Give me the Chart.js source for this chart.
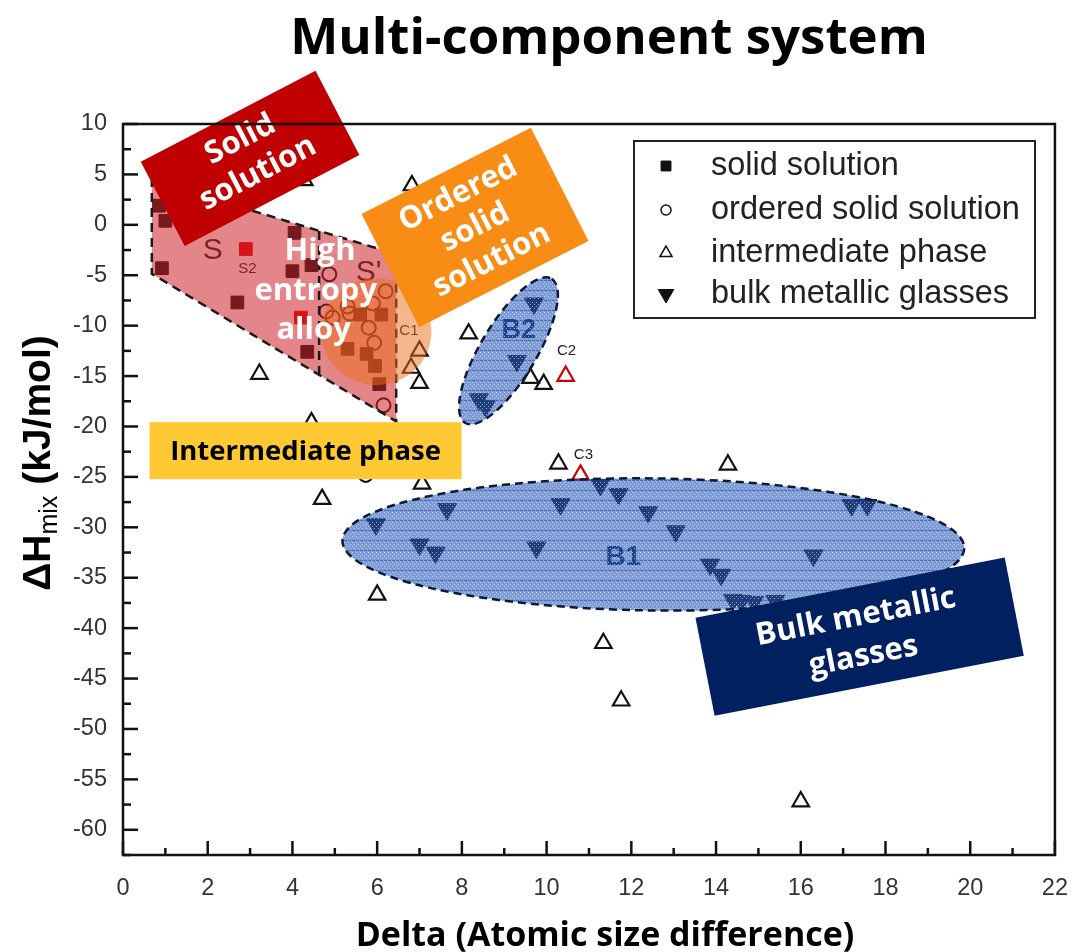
<!DOCTYPE html>
<html>
<head>
<meta charset="utf-8">
<script src="https://cdn.jsdelivr.net/npm/chart.js@4.4.1/dist/chart.umd.min.js"></script>
<style>
  html, body { margin: 0; padding: 0; background: #fff; }
  #wrap { width: 1079px; height: 952px; }
</style>
</head>
<body>
<div id="wrap"><canvas id="chart"></canvas></div>
<script>
// --- data ---
const solidX = [0.85, 1.0, 0.92, 2.7, 2.9, 4.05, 4.0, 4.45, 4.35, 4.2, 5.3, 5.6, 6.1, 5.75, 5.95, 6.05];
const solidY = [1.9, 0.4, -4.3, -7.7, -2.4, -0.8, -4.6, -4.0, -12.6, -9.2, -12.3, -8.9, -8.9, -12.8, -14.0, -15.8];
const solidRed = [4, 9];

const orderedX = [4.87, 6.2, 5.9, 4.8, 5.3, 5.35, 4.95, 5.8, 5.93, 6.15, 5.73];
const orderedY = [-4.9, -6.6, -7.8, -8.6, -8.1, -8.8, -9.2, -10.2, -11.7, -17.9, -24.8];

const interX = [6.82, 4.28, 3.22, 4.45, 7.0, 6.8, 7.0, 8.16, 9.62, 9.93, 10.45, 10.28, 10.8, 7.06, 4.7, 6.0, 11.34, 11.76, 14.28, 16.0];
const interY = [3.9, 4.4, -14.8, -19.6, -12.5, -14.2, -15.7, -10.8, -15.2, -15.8, -15.0, -23.7, -24.8, -25.7, -27.2, -36.7, -41.5, -47.2, -23.8, -57.2];
const interRed = [10, 12];

const bmgX = [9.7, 9.3, 8.4, 8.56, 5.97, 7.65, 7.0, 7.38, 9.76, 10.33, 11.27, 11.7, 12.4, 13.05, 13.86, 14.12, 14.4, 14.6, 14.9, 15.4, 16.3, 17.2, 17.57];
const bmgY = [-7.8, -13.5, -17.3, -18.0, -29.7, -28.2, -31.7, -32.5, -32.0, -27.7, -25.8, -26.7, -28.5, -30.4, -33.7, -34.7, -37.2, -37.3, -37.4, -37.3, -32.8, -27.8, -27.8];

const seriesNames = ['solid solution', 'ordered solid solution', 'intermediate phase', 'bulk metallic glasses'];

// region outlines, in data units
const sRegionX = [0.68, 6.45, 6.45, 0.68];
const sRegionY = [4.4, -2.9, -19.5, -4.85];

const xTicks = { min: 0, max: 22, step: 1 };
const yTicks = { min: -62.5, max: 10, step: 2.5 };

const pts = (xs, ys) => xs.map((x, i) => ({ x, y: ys[i] }));

const solidColors = solidX.map((_, i) => solidRed.includes(i) ? '#e00000' : '#111');
const interColors = interX.map((_, i) => interRed.includes(i) ? '#c80000' : '#111');

function dotPattern(ctx) {
  const c = document.createElement('canvas');
  c.width = 4; c.height = 10;
  const p = c.getContext('2d');
  p.fillStyle = 'rgba(255,255,255,0.55)';
  p.fillRect(0, 2, 1, 1); p.fillRect(2, 4, 1, 1); p.fillRect(0, 6, 1, 1); p.fillRect(2, 8, 1, 1);
  p.fillStyle = 'rgba(20,60,170,0.45)';
  p.fillRect(0, 0, 3, 1);
  return ctx.createPattern(c, 'repeat');
}

function box(ctx, cx, cy, w, h, deg, color, lines, font, lineGap, dy, textColor) {
  ctx.save();
  ctx.translate(cx, cy);
  ctx.rotate(deg * Math.PI / 180);
  ctx.fillStyle = color;
  ctx.fillRect(-w / 2, -h / 2, w, h);
  ctx.fillStyle = textColor || '#fff';
  ctx.font = font;
  ctx.textAlign = 'center';
  ctx.textBaseline = 'middle';
  const start = -(lines.length - 1) * lineGap / 2 + (dy || 0);
  lines.forEach((t, i) => ctx.fillText(t, 0, start + i * lineGap));
  ctx.restore();
}

const overlayPlugin = {
  id: 'overlay',
  afterDatasetsDraw(chart) {
    const { ctx } = chart;
    const sx = chart.scales.x, sy = chart.scales.y;
    const X = v => sx.getPixelForValue(v), Y = v => sy.getPixelForValue(v);
    const pxPerX = X(1) - X(0), pxPerY = Y(0) - Y(1);

    // small labels (drawn under the tinted regions)
    ctx.save();
    ctx.fillStyle = '#222';
    ctx.textAlign = 'center';
    ctx.textBaseline = 'middle';
    ctx.font = '30px "Liberation Sans"';
    ctx.fillText('S', X(2.12), Y(-2.56));
    ctx.fillText("S'", X(5.8), Y(-4.75));
    ctx.font = '15px "Liberation Sans"';
    ctx.fillText('S2', X(2.94), Y(-4.4));
    ctx.fillText('C1', X(6.75), Y(-10.5));
    ctx.fillText('C2', X(10.47), Y(-12.5));
    ctx.fillText('C3', X(10.87), Y(-22.8));
    ctx.fillStyle = '#0a1a3a';
    ctx.font = 'bold 27px "Liberation Sans"';
    ctx.fillText('B2', X(9.34), Y(-10.5));
    ctx.font = 'bold 28px "Liberation Sans"';
    ctx.fillText('B1', X(11.81), Y(-33.0));
    ctx.restore();

    // S region polygon
    ctx.save();
    ctx.beginPath();
    sRegionX.forEach((x, i) => i ? ctx.lineTo(X(x), Y(sRegionY[i])) : ctx.moveTo(X(x), Y(sRegionY[i])));
    ctx.closePath();
    ctx.fillStyle = 'rgba(205,35,40,0.55)';
    ctx.fill();
    ctx.setLineDash([9, 6]);
    ctx.lineWidth = 2.5;
    ctx.strokeStyle = '#1a1a1a';
    ctx.stroke();
    ctx.beginPath();
    ctx.moveTo(X(4.63), Y(-0.6));
    ctx.lineTo(X(4.63), Y(-15));
    ctx.stroke();
    ctx.restore();

    // high entropy alloy circle
    ctx.save();
    ctx.beginPath();
    ctx.ellipse(X(5.98), Y(-10.6), 1.3 * pxPerX, 5.3 * pxPerY, 0, 0, Math.PI * 2);
    ctx.fillStyle = 'rgba(238,110,25,0.5)';
    ctx.fill();
    ctx.restore();

    const pat = dotPattern(ctx);
    // B2 ellipse (tilted)
    ctx.save();
    const c2x = X(9.1), c2y = Y(-12.5);
    const e2x = X(10.12), e2y = Y(-5.35);
    const r2 = Math.hypot(e2x - c2x, e2y - c2y);
    const ang2 = Math.atan2(e2y - c2y, e2x - c2x);
    ctx.beginPath();
    ctx.ellipse(c2x, c2y, r2, 0.66 * pxPerX, ang2, 0, Math.PI * 2);
    ctx.fillStyle = 'rgba(40,90,190,0.6)';
    ctx.fill();
    ctx.fillStyle = pat;
    ctx.fill();
    ctx.setLineDash([8, 5]);
    ctx.lineWidth = 2.5;
    ctx.strokeStyle = '#0d1a33';
    ctx.stroke();
    ctx.restore();

    // B1 ellipse
    ctx.save();
    ctx.beginPath();
    ctx.ellipse(X(12.52), Y(-31.7), 7.34 * pxPerX, 6.55 * pxPerY, 0.012, 0, Math.PI * 2);
    ctx.fillStyle = 'rgba(40,90,190,0.6)';
    ctx.fill();
    ctx.fillStyle = pat;
    ctx.fill();
    ctx.setLineDash([8, 5]);
    ctx.lineWidth = 2.5;
    ctx.strokeStyle = '#0d1a33';
    ctx.stroke();
    ctx.restore();

    // callout boxes
    const lf = 'bold 31px "Open Sans"';
    box(ctx, X(3.0), Y(6.6), 197, 95, -27.5, '#c00000', ['Solid', 'solution'], lf, 38, -2);
    box(ctx, X(8.31), Y(-0.27), 190, 127, -27, '#f98c14', ['Ordered', 'solid', 'solution'], lf, 37, 0);
    box(ctx, X(17.39), Y(-40.85), 315, 100, -11, '#002060', ['Bulk metallic', 'glasses'], lf, 40, 0);
    box(ctx, X(4.31), Y(-22.4), 312, 57, 0, '#ffc933', ['Intermediate phase'], 'bold 27.5px "Open Sans"', 0, 1, '#000');

    ctx.save();
    ctx.fillStyle = '#fff';
    ctx.font = 'bold 31px "Open Sans"';
    ctx.textAlign = 'center';
    ctx.textBaseline = 'middle';
    ctx.fillText('High', X(4.65), Y(-2.6));
    ctx.fillText('entropy', X(4.55), Y(-6.6));
    ctx.fillText('alloy', X(4.5), Y(-10.4));
    ctx.restore();
  },
  afterDraw(chart) {
    const { ctx, chartArea: a } = chart;
    const sx = chart.scales.x, sy = chart.scales.y;
    ctx.save();
    // frame
    ctx.strokeStyle = '#111';
    ctx.lineWidth = 2.5;
    ctx.strokeRect(a.left, a.top, a.right - a.left, a.bottom - a.top);
    // inner ticks
    sy.ticks.forEach(t => {
      const y = sy.getPixelForValue(t.value);
      const len = Math.abs(t.value % 5) < 1e-6 ? 15 : 8;
      ctx.beginPath(); ctx.moveTo(a.left, y); ctx.lineTo(a.left + len, y); ctx.stroke();
    });
    sx.ticks.forEach(t => {
      const x = sx.getPixelForValue(t.value);
      const len = t.value % 2 === 0 ? 14 : 7;
      ctx.beginPath(); ctx.moveTo(x, a.bottom); ctx.lineTo(x, a.bottom - len); ctx.stroke();
    });

    // legend
    const lx = 634, ly = 141, lw = 401, lh = 177;
    ctx.fillStyle = '#fff';
    ctx.fillRect(lx, ly, lw, lh);
    ctx.lineWidth = 2;
    ctx.strokeStyle = '#222';
    ctx.strokeRect(lx, ly, lw, lh);
    const styles = [
      { pointStyle: 'rect', radius: 7, rotation: 0, fill: '#111', borderWidth: 1 },
      { pointStyle: 'circle', radius: 5, rotation: 0, fill: '#fff', borderWidth: 1.5 },
      { pointStyle: 'triangle', radius: 7, rotation: 0, fill: '#fff', borderWidth: 1.5 },
      { pointStyle: 'triangle', radius: 9, rotation: 180, fill: '#111', borderWidth: 1 }
    ];
    const rows = [166, 210, 253, 294];
    ctx.font = '32.5px "Liberation Sans"';
    ctx.textBaseline = 'middle';
    ctx.textAlign = 'left';
    seriesNames.forEach((name, i) => {
      const s = styles[i];
      ctx.fillStyle = s.fill;
      ctx.strokeStyle = '#111';
      ctx.lineWidth = s.borderWidth;
      Chart.helpers.drawPoint(ctx, s, 666, rows[i]);
      ctx.fillStyle = '#222';
      ctx.fillText(name, 711, rows[i]);
    });

    // titles
    ctx.fillStyle = '#000';
    ctx.textAlign = 'center';
    ctx.textBaseline = 'alphabetic';
    ctx.font = 'bold 51px "Open Sans"';
    ctx.fillText('Multi-component system', 609, 54);
    ctx.font = 'bold 34px "Open Sans"';
    ctx.fillText('Delta (Atomic size difference)', 605, 946);

    ctx.translate(50, 463);
    ctx.rotate(-Math.PI / 2);
    ctx.textAlign = 'left';
    ctx.font = 'bold 39px "Liberation Sans"';
    const p1 = '\u0394H', p3 = ' (kJ/mol)';
    const w1 = ctx.measureText(p1).width;
    const w3 = ctx.measureText(p3).width;
    ctx.font = '25px "Liberation Sans"';
    const w2 = ctx.measureText('mix').width;
    let x0 = -(w1 + w2 + w3) / 2;
    ctx.font = 'bold 39px "Liberation Sans"';
    ctx.fillText(p1, x0, 0);
    ctx.font = '25px "Liberation Sans"';
    ctx.fillText('mix', x0 + w1, 7);
    ctx.font = 'bold 39px "Liberation Sans"';
    ctx.fillText(p3, x0 + w1 + w2, 0);
    ctx.restore();
  }
};

const tickFont = { family: '"Liberation Sans"', size: 23.5 };

new Chart(document.getElementById('chart'), {
  type: 'scatter',
  data: {
    datasets: [
      {
        label: seriesNames[0],
        data: pts(solidX, solidY),
        pointStyle: 'rect',
        pointRadius: 9,
        backgroundColor: solidColors,
        borderColor: solidColors,
        borderWidth: 1,
      },
      {
        label: seriesNames[1],
        data: pts(orderedX, orderedY),
        pointStyle: 'circle',
        pointRadius: 7,
        backgroundColor: 'rgba(255,255,255,0)',
        borderColor: '#111',
        borderWidth: 2,
      },
      {
        label: seriesNames[2],
        data: pts(interX, interY),
        pointStyle: 'triangle',
        pointRadius: 9.5,
        backgroundColor: 'rgba(255,255,255,0)',
        borderColor: interColors,
        borderWidth: 2.2,
      },
      {
        label: seriesNames[3],
        data: pts(bmgX, bmgY),
        pointStyle: 'triangle',
        rotation: 180,
        pointRadius: 11,
        backgroundColor: '#111',
        borderColor: '#111',
        borderWidth: 1,
      },
    ],
  },
  options: {
    responsive: true,
    maintainAspectRatio: false,
    animation: false,
    layout: { padding: { left: 0, right: 21, top: 124, bottom: 0 } },
    plugins: {
      legend: { display: false },
      tooltip: { enabled: false },
    },
    scales: {
      x: {
        type: 'linear',
        min: xTicks.min,
        max: xTicks.max,
        grid: { display: false },
        border: { display: false },
        ticks: {
          stepSize: xTicks.step,
          autoSkip: false,
          maxRotation: 0,
          padding: 11,
          color: '#333',
          font: tickFont,
          callback: v => (v % 2 === 0 ? String(v) : ''),
        },
        afterFit: s => { s.height = 97; },
      },
      y: {
        type: 'linear',
        min: yTicks.min,
        max: yTicks.max,
        grid: { display: false },
        border: { display: false },
        ticks: {
          stepSize: yTicks.step,
          autoSkip: false,
          padding: 8,
          color: '#333',
          font: tickFont,
          callback: v => (Math.abs(v % 5) < 1e-6 ? String(v) : ''),
        },
        afterFit: s => { s.width = 123; },
      },
    },
  },
  plugins: [overlayPlugin],
});
</script>
</body>
</html>
